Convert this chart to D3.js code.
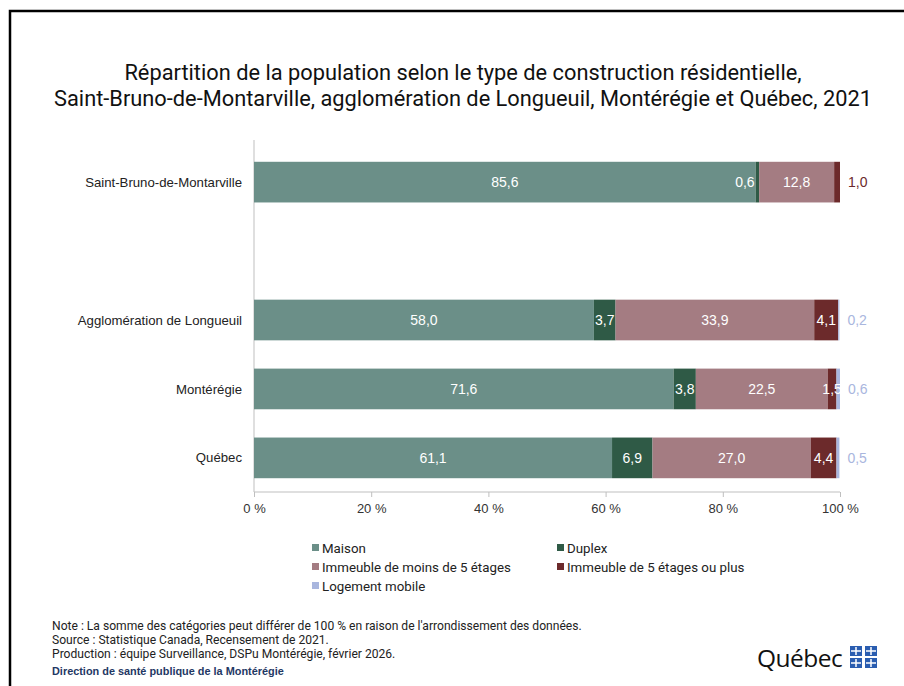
<!DOCTYPE html>
<html>
<head>
<meta charset="utf-8">
<script src="https://cdn.jsdelivr.net/npm/d3@7"></script>
<style>
  body { margin: 0; background: #fff; }
  svg { display: block; }
</style>
</head>
<body>
<div id="chart"></div>
<script>
// data
var categories = ["Saint-Bruno-de-Montarville", "Agglomération de Longueuil", "Montérégie", "Québec"];
var seriesNames = ["Maison", "Duplex", "Immeuble de moins de 5 étages", "Immeuble de 5 étages ou plus", "Logement mobile"];
var maison = [85.6, 58.0, 71.6, 61.1];
var duplex = [0.6, 3.7, 3.8, 6.9];
var moins5 = [12.8, 33.9, 22.5, 27.0];
var plus5 = [1.0, 4.1, 1.5, 4.4];
var mobile = [0, 0.2, 0.6, 0.5];
var tickValues = [0, 20, 40, 60, 80, 100];
var colors = ["#6b8f88", "#2f5a46", "#a47c82", "#6c2a2b", "#a9b6de"];
var notes = [
  "Note : La somme des catégories peut différer de 100 % en raison de l'arrondissement des données.",
  "Source : Statistique Canada, Recensement de 2021.",
  "Production : équipe Surveillance, DSPu Montérégie, février 2026."
];

var allSeries = [maison, duplex, moins5, plus5, mobile];

var svgWidth = 904;
var svgHeight = 686;

var svg = d3.select("#chart")
    .append("svg")
    .attr("width", svgWidth)
    .attr("height", svgHeight);

// frame
svg.append("path")
    .attr("d", "M10,700 L10,11 L910,11")
    .attr("fill", "none")
    .attr("stroke", "#000")
    .attr("stroke-width", 2.5);

// title
var title = svg.append("text")
    .attr("text-anchor", "middle")
    .attr("font-family", "Roboto, sans-serif")
    .attr("font-size", 21.8)
    .attr("fill", "#111");
title.append("tspan").attr("x", 463).attr("y", 80)
    .text("Répartition de la population selon le type de construction résidentielle,");
title.append("tspan").attr("x", 463).attr("y", 106)
    .text("Saint-Bruno-de-Montarville, agglomération de Longueuil, Montérégie et Québec, 2021");

// scales
var x = d3.scaleLinear().domain([0, 100]).range([254, 840]);
var yDomain = [categories[0], "gap", categories[1], categories[2], categories[3]];
var y = d3.scaleBand().domain(yDomain).range([148, 492]).paddingInner(0.41).paddingOuter(0.2);

// stacked data
var rows = categories.map(function (c, i) {
    var row = { cat: c };
    seriesNames.forEach(function (s, j) { row[s] = allSeries[j][i]; });
    return row;
});
var stack = d3.stack().keys(seriesNames)(rows);

// axes
var xAxis = d3.axisBottom(x)
    .tickValues(tickValues)
    .tickSize(5)
    .tickFormat(function (d) { return d + " %"; });
var gx = svg.append("g")
    .attr("transform", "translate(0,492)")
    .call(xAxis);
gx.select(".domain").attr("stroke", "#bfbfbf").attr("d", "M254,0H840");
gx.selectAll(".tick line").attr("stroke", "#bfbfbf");
gx.selectAll(".tick text")
    .attr("font-family", "Liberation Sans, Arial, sans-serif")
    .attr("font-size", 13)
    .attr("fill", "#333")
    .attr("dy", "1em");

svg.append("line")
    .attr("x1", 254).attr("x2", 254)
    .attr("y1", 140).attr("y2", 492)
    .attr("stroke", "#bfbfbf");

svg.append("g").selectAll("text")
    .data(categories)
    .enter()
    .append("text")
    .attr("x", 242)
    .attr("y", function (d) { return y(d) + y.bandwidth() / 2; })
    .attr("dy", "0.35em")
    .attr("text-anchor", "end")
    .attr("font-family", "Liberation Sans, Arial, sans-serif")
    .attr("font-size", 13.2)
    .attr("fill", "#222")
    .text(function (d) { return d; });

// bars
var fmt = function (v) { return v.toFixed(1).replace(".", ","); };
var layers = svg.append("g").selectAll("g")
    .data(stack)
    .enter()
    .append("g")
    .attr("fill", function (d, i) { return colors[i]; });

layers.selectAll("rect")
    .data(function (d) { return d; })
    .enter()
    .append("rect")
    .attr("x", function (d) { return x(d[0]); })
    .attr("y", function (d) { return y(d.data.cat); })
    .attr("width", function (d) { return x(d[1]) - x(d[0]); })
    .attr("height", y.bandwidth());

// labels
stack.forEach(function (layer, si) {
    layer.forEach(function (d, ci) {
        var v = d[1] - d[0];
        if (v <= 0) return;
        var isLast = si === seriesNames.length - 1 || allSeries.slice(si + 1).every(function (s) { return s[ci] === 0; });
        var lx, anchor = "middle", fill = "#fff";
        if (isLast && (si === 4 || v <= 1.0)) {
            lx = x(d[1]) + 8; anchor = "start"; fill = colors[si];
        } else if (v < 1) {
            lx = x(d[0]) - 1; anchor = "end";
        } else {
            lx = (x(d[0]) + x(d[1])) / 2;
        }
        svg.append("text")
            .attr("x", lx)
            .attr("y", y(d.data.cat) + y.bandwidth() / 2)
            .attr("dy", "0.35em")
            .attr("text-anchor", anchor)
            .attr("font-family", "Liberation Sans, Arial, sans-serif")
            .attr("font-size", 14)
            .attr("fill", fill)
            .text(fmt(v));
    });
});

// legend
var legendPos = [[312, 548], [557, 548], [312, 567], [557, 567], [312, 586]];
var legend = svg.append("g").selectAll("g")
    .data(seriesNames)
    .enter()
    .append("g")
    .attr("transform", function (d, i) { return "translate(" + legendPos[i][0] + "," + legendPos[i][1] + ")"; });
legend.append("rect")
    .attr("x", 0).attr("y", -4)
    .attr("width", 7).attr("height", 7)
    .attr("fill", function (d, i) { return colors[i]; });
legend.append("text")
    .attr("x", 10)
    .attr("dy", "0.35em")
    .attr("font-family", "Roboto, sans-serif")
    .attr("font-size", 13.3)
    .attr("fill", "#222")
    .text(function (d) { return d; });

// notes
svg.append("g").selectAll("text")
    .data(notes)
    .enter()
    .append("text")
    .attr("x", 52)
    .attr("y", function (d, i) { return 630 + i * 14; })
    .attr("font-family", "Roboto, sans-serif")
    .attr("font-size", 12.1)
    .attr("fill", "#222")
    .text(function (d) { return d; });

svg.append("text")
    .attr("x", 52).attr("y", 675)
    .attr("font-family", "Liberation Sans, Arial, sans-serif")
    .attr("font-weight", "bold")
    .attr("font-size", 10.9)
    .attr("fill", "#1f3864")
    .text("Direction de santé publique de la Montérégie");

// Québec logo
svg.append("text")
    .attr("x", 757).attr("y", 667)
    .attr("font-family", "Open Sans, sans-serif")
    .attr("font-size", 24.5)
    .attr("letter-spacing", -0.5)
    .attr("fill", "#111")
    .text("Québec");
var flag = svg.append("g").attr("transform", "translate(850,646)");
[[0, 0], [15, 0], [0, 12], [15, 12]].forEach(function (p) {
    flag.append("rect").attr("x", p[0]).attr("y", p[1]).attr("width", 12).attr("height", 10).attr("fill", "#2a5db0");
    flag.append("path")
        .attr("d", "M" + (p[0] + 6) + "," + (p[1] + 1) + "v8M" + (p[0] + 1) + "," + (p[1] + 5) + "h10")
        .attr("stroke", "#fff").attr("stroke-width", 1.5);
});
</script>
</body>
</html>
